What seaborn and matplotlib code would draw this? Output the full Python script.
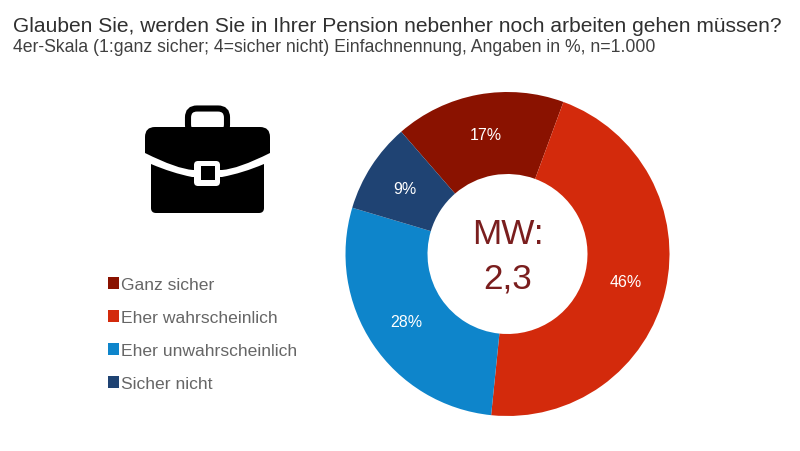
import matplotlib
matplotlib.use("Agg")
import matplotlib.pyplot as plt
import seaborn as sns
from matplotlib.patches import PathPatch, Patch, Rectangle, FancyBboxPatch
from matplotlib.path import Path

sns.set_theme(style="white")
plt.rcParams['font.family'] = ['Liberation Sans', 'DejaVu Sans']

title = "Glauben Sie, werden Sie in Ihrer Pension nebenher noch arbeiten gehen müssen?"
subtitle = "4er-Skala (1:ganz sicher; 4=sicher nicht) Einfachnennung, Angaben in %, n=1.000"
categories = ["Ganz sicher", "Eher wahrscheinlich", "Eher unwahrscheinlich", "Sicher nicht"]
values = [17, 46, 28, 9]
colors = ["#8A1200", "#D32A0C", "#0E85CB", "#1F4373"]
center_label = "MW:\n2,3"

W, H = 800, 452
fig = plt.figure(figsize=(W / 100, H / 100), dpi=100, facecolor="white")

# overlay in pixel coordinates for texts and icon
ov = fig.add_axes([0, 0, 1, 1])
ov.set_xlim(0, W)
ov.set_ylim(H, 0)
ov.axis("off")

ov.text(13, 27, title, fontsize=15.15, color="#303030", va="center", ha="left")
ov.text(13, 48, subtitle, fontsize=12.66, color="#404040", va="center", ha="left")

# donut
cx, cy, R = 507.5, 255, 162
ax = fig.add_axes([(cx - R) / W, 1 - (cy + R) / H, 2 * R / W, 2 * R / H])
wedges, _, autotexts = ax.pie(
    values, colors=colors, startangle=131, counterclock=False, radius=1,
    wedgeprops=dict(width=82 / 162, edgecolor="none"),
    autopct="%d%%", pctdistance=0.75,
    textprops=dict(color="white", fontsize=11.5),
)
ax.set_xlim(-1, 1)
ax.set_ylim(-1, 1)
ax.set_aspect("equal")
ax.text(0, -0.01, center_label, ha="center", va="center", fontsize=25.3,
        color="#7A1E1E", linespacing=1.42)

# briefcase icon
M, C3, L = Path.MOVETO, Path.CURVE3, Path.LINETO
upper = Path(
    [(145, 138), (145, 128), (155, 128), (260, 128), (270, 128), (270, 138),
     (270, 154), (238, 170), (222, 171), (193, 171), (177, 170), (145, 154), (145, 138)],
    [M, C3, C3, L, C3, C3, L, C3, C3, L, C3, C3, L])
lower = Path(
    [(151, 165), (172, 174), (192, 178), (222, 178), (243, 174), (264, 165),
     (264, 209), (264, 214), (259, 214), (156, 214), (151, 214), (151, 209), (151, 165)],
    [M, C3, C3, L, C3, C3, L, C3, C3, L, C3, C3, L])
ov.add_patch(PathPatch(upper, fc="black", ec="none"))
ov.add_patch(PathPatch(lower, fc="black", ec="none"))
ov.add_patch(FancyBboxPatch((188, 109.5), 39, 25, boxstyle="round,pad=0,rounding_size=9",
                            fc="none", ec="black", lw=4.4))
ov.add_patch(FancyBboxPatch((194, 162), 26, 25, boxstyle="round,pad=0,rounding_size=4",
                            fc="white", ec="none"))
ov.add_patch(Rectangle((201, 167), 14, 14, fc="black", ec="none"))

# legend
handles = [Patch(facecolor=c, edgecolor="none", label=l) for c, l in zip(colors, categories)]
leg = fig.legend(
    handles=handles, loc="upper left", bbox_to_anchor=(108 / W, 1 - 278 / H),
    frameon=False, fontsize=12.6, labelcolor="#666666",
    handlelength=0.62, handleheight=0.62, handletextpad=0.1, labelspacing=1.03,
    borderpad=0, borderaxespad=0,
)

fig.savefig("out.png", dpi=100, facecolor="white")
